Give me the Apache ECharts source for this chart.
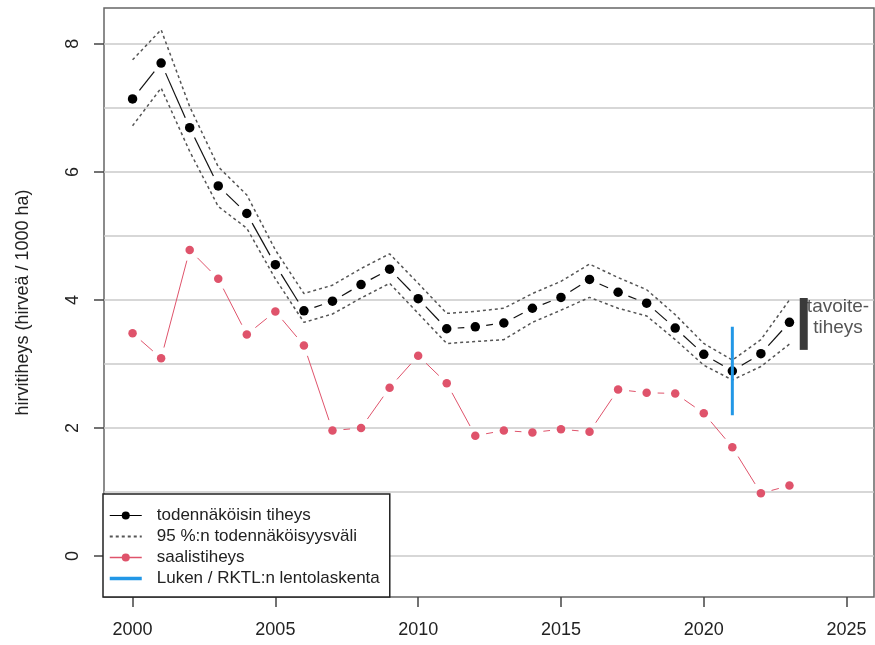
<!DOCTYPE html>
<html lang="fi">
<head>
<meta charset="UTF-8">
<title>Hirvitiheys</title>
<script src="https://cdn.jsdelivr.net/npm/echarts@6/dist/echarts.min.js"></script>
<style>
  html, body { margin: 0; padding: 0; background: #fff; }
  #main { width: 875px; height: 645px; }
</style>
</head>
<body>
<div id="main"></div>
<script>
// vuodet ja arvot (luettu kuvasta)
var years = [2000, 2001, 2002, 2003, 2004, 2005, 2006, 2007, 2008, 2009, 2010, 2011,
             2012, 2013, 2014, 2015, 2016, 2017, 2018, 2019, 2020, 2021, 2022, 2023]
var estimate = [7.14, 7.70, 6.69, 5.78, 5.35, 4.55, 3.83, 3.98, 4.24, 4.48, 4.02, 3.55,
                3.58, 3.64, 3.87, 4.04, 4.32, 4.12, 3.95, 3.56, 3.15, 2.89, 3.16, 3.65]
var ciUpper = [7.75, 8.22, 7.02, 6.08, 5.64, 4.78, 4.10, 4.23, 4.49, 4.72, 4.26, 3.79,
               3.82, 3.87, 4.10, 4.29, 4.56, 4.35, 4.16, 3.77, 3.32, 3.06, 3.38, 4.00]
var ciLower = [6.72, 7.31, 6.32, 5.46, 5.12, 4.33, 3.65, 3.78, 4.03, 4.26, 3.79, 3.32,
               3.35, 3.38, 3.65, 3.84, 4.04, 3.87, 3.75, 3.38, 2.98, 2.75, 2.96, 3.31]
var harvest = [3.48, 3.09, 4.78, 4.33, 3.46, 3.82, 3.29, 1.96, 2.00, 2.63, 3.13, 2.70,
               1.88, 1.96, 1.93, 1.98, 1.94, 2.60, 2.55, 2.54, 2.23, 1.70, 0.98, 1.10]
// lentolaskennan väli vuodelta 2021
var surveyYear = 2021
var surveyRange = [2.20, 3.58]
// tavoitetiheys
var targetX = 2023.5
var targetRange = [3.22, 4.03]
var targetLabelPos = [2024.7, 3.73]
var targetLabel = 'tavoite-\ntiheys'

var yTicks = [0, 2, 4, 6, 8]
var yGrid = [0, 1, 2, 3, 4, 5, 6, 7, 8]
var xTicks = [2000, 2005, 2010, 2015, 2020, 2025]

var names = ['todennäköisin tiheys', '95 %:n todennäköisyysväli', 'saalistiheys', 'Luken / RKTL:n lentolaskenta']

var FONT = 'Liberation Sans'

function pairs(xs, ys) {
  return xs.map(function (x, i) { return [x, ys[i]] })
}

/* R:n type="b" -tyyliset viivat: janat pisteiden väliin, päät lyhennettyinä */
function gapLine(xs, ys, color, width, gap) {
  var data = []
  for (var i = 0; i < xs.length - 1; i++) {
    data.push([xs[i], ys[i], xs[i + 1], ys[i + 1]])
  }
  return {
    type: 'custom',
    name: '_seg_' + color,
    z: 3,
    silent: true,
    encode: { x: [0, 2], y: [1, 3] },
    data: data,
    renderItem: function (params, api) {
      var p0 = api.coord([api.value(0), api.value(1)])
      var p1 = api.coord([api.value(2), api.value(3)])
      var dx = p1[0] - p0[0], dy = p1[1] - p0[1]
      var len = Math.sqrt(dx * dx + dy * dy)
      if (len <= 2 * gap) return
      var ux = dx / len, uy = dy / len
      return {
        type: 'line',
        shape: { x1: p0[0] + ux * gap, y1: p0[1] + uy * gap, x2: p1[0] - ux * gap, y2: p1[1] - uy * gap },
        style: { stroke: color, lineWidth: width }
      }
    }
  }
}

var chart = echarts.init(document.getElementById('main'))

var ciStyle = { type: [3, 3], color: '#555', width: 1.5 }
var plain = function (v) { return String(v) }

var option = {
  animation: false,
  textStyle: { fontFamily: FONT },
  grid: {
    left: 104, right: 1, top: 8, bottom: 48,
    show: true, borderColor: '#666', borderWidth: 1.5, backgroundColor: 'transparent'
  },
  legend: {
    orient: 'vertical',
    left: 103, top: 494,
    padding: [11, 10, 8, 5],
    itemGap: 0,
    itemWidth: 32, itemHeight: 10,
    backgroundColor: '#fff',
    borderColor: '#222', borderWidth: 1.5, borderRadius: 0,
    selectedMode: false,
    textStyle: { fontFamily: FONT, fontSize: 17, color: '#222', lineHeight: 21, padding: [0, 0, 0, 10] },
    data: [
      { name: names[0], lineStyle: { opacity: 1, width: 1.2, color: '#000' } },
      { name: names[1], itemStyle: { opacity: 0 } },
      { name: names[2], lineStyle: { opacity: 1, width: 1.5, color: '#DF536B' } },
      { name: names[3], itemStyle: { opacity: 0 }, lineStyle: { width: 3.5, color: '#2297E6' } }
    ]
  },
  xAxis: {
    type: 'value',
    min: 1999, max: 2025.96,
    axisLine: { show: false, onZero: false },
    splitLine: { show: false },
    axisTick: { show: true, length: 10, customValues: xTicks, lineStyle: { color: '#444', width: 1.5 } },
    axisLabel: { customValues: xTicks, formatter: plain, margin: 24, fontSize: 18, color: '#222', fontFamily: FONT }
  },
  yAxis: [
    {
      type: 'value',
      min: -0.64, max: 8.56,
      position: 'left',
      axisLine: { show: false, onZero: false },
      axisTick: { show: false, customValues: yGrid },
      axisLabel: { show: false, customValues: yGrid },
      splitLine: { show: true, lineStyle: { color: '#cacaca', width: 1.5 } }
    },
    {
      type: 'value',
      min: -0.64, max: 8.56,
      position: 'left',
      name: 'hirvitiheys (hirveä / 1000 ha)',
      nameLocation: 'middle',
      nameRotate: 90,
      nameGap: 72,
      nameTextStyle: { fontSize: 18, color: '#222', fontFamily: FONT },
      axisLine: { show: false, onZero: false },
      splitLine: { show: false },
      axisTick: { show: true, length: 10, customValues: yTicks, lineStyle: { color: '#444', width: 1.5 } },
      axisLabel: { customValues: yTicks, formatter: plain, rotate: 90, margin: 22, fontSize: 18, color: '#222', fontFamily: FONT }
    }
  ],
  series: [
    {
      name: names[1], type: 'line', data: pairs(years, ciUpper),
      symbol: 'none', lineStyle: ciStyle, itemStyle: { color: '#555' }, z: 2, silent: true
    },
    {
      name: names[1], type: 'line', data: pairs(years, ciLower),
      symbol: 'none', lineStyle: ciStyle, itemStyle: { color: '#555' }, z: 2, silent: true
    },
    gapLine(years, estimate, '#111', 1.2, 11),
    gapLine(years, harvest, '#DF536B', 1, 11),
    {
      name: names[0], type: 'line', data: pairs(years, estimate),
      symbol: 'circle', symbolSize: 9.5, showAllSymbol: true,
      itemStyle: { color: '#000' }, lineStyle: { color: '#000', opacity: 0 }, z: 4
    },
    {
      name: names[2], type: 'line', data: pairs(years, harvest),
      symbol: 'circle', symbolSize: 8.5, showAllSymbol: true,
      itemStyle: { color: '#DF536B' }, lineStyle: { color: '#DF536B', opacity: 0 }, z: 4
    },
    {
      name: names[3], type: 'line',
      data: [[surveyYear, surveyRange[0]], [surveyYear, surveyRange[1]]],
      symbol: 'none', lineStyle: { color: '#2297E6', width: 3, cap: 'butt' },
      itemStyle: { color: '#2297E6' }, z: 5
    },
    {
      name: '_target', type: 'line',
      data: [[targetX, targetRange[0]], [targetX, targetRange[1]]],
      symbol: 'none', lineStyle: { color: '#3a3a3a', width: 8, cap: 'butt' }, z: 5
    },
    {
      name: '_targetLabel', type: 'scatter',
      data: [targetLabelPos],
      symbolSize: 0, z: 4, silent: true,
      label: {
        show: true, position: 'inside', formatter: targetLabel,
        fontSize: 19, lineHeight: 21, color: '#2a2a2a', fontFamily: FONT, align: 'center'
      }
    }
  ]
}

chart.setOption(option)
</script>
</body>
</html>
